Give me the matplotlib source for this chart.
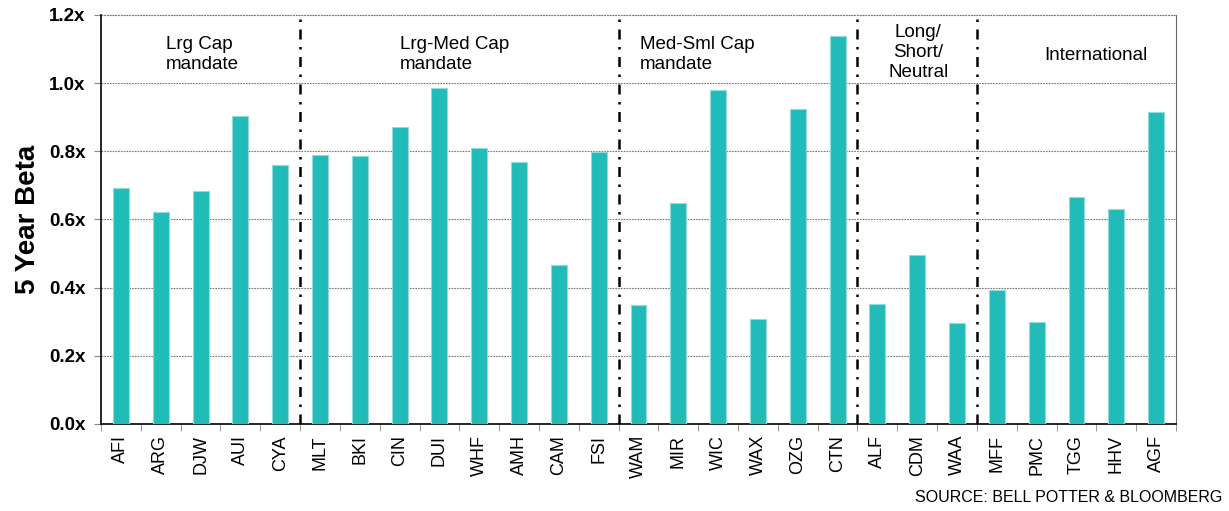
import matplotlib
matplotlib.use("Agg")
import matplotlib.pyplot as plt
import numpy as np

plt.rcParams['font.family'] = ['Liberation Sans', 'DejaVu Sans']

tickers = ["AFI", "ARG", "DJW", "AUI", "CYA",
           "MLT", "BKI", "CIN", "DUI", "WHF", "AMH", "CAM", "FSI",
           "WAM", "MIR", "WIC", "WAX", "OZG", "CTN",
           "ALF", "CDM", "WAA",
           "MFF", "PMC", "TGG", "HHV", "AGF"]
beta = [0.691, 0.621, 0.684, 0.903, 0.759,
        0.788, 0.786, 0.871, 0.987, 0.809, 0.769, 0.466, 0.799,
        0.350, 0.647, 0.980, 0.307, 0.923, 1.138,
        0.351, 0.496, 0.295,
        0.392, 0.300, 0.666, 0.632, 0.915]
group_names = ["Lrg Cap\nmandate", "Lrg-Med Cap\nmandate", "Med-Sml Cap\nmandate",
               "Long/\nShort/\nNeutral", "International"]
group_sizes = [5, 8, 6, 3, 5]
yticks = [0.0, 0.2, 0.4, 0.6, 0.8, 1.0, 1.2]
ytick_labels = ["0.0x", "0.2x", "0.4x", "0.6x", "0.8x", "1.0x", "1.2x"]

fig = plt.figure(figsize=(12.29, 5.11), dpi=100)
ax = fig.add_axes([101/1229, 1 - 424/511, (1176-101)/1229, (424-15)/511])

x = np.arange(len(tickers))
ax.bar(x, beta, width=0.4, color='#22BCB8', edgecolor='#8FDCD8', linewidth=0.8, zorder=3)

ax.set_xlim(-0.5, len(tickers) - 0.5)
ax.set_ylim(0, 1.2)
ax.set_yticks(yticks)
ax.set_yticklabels(ytick_labels, fontsize=13.5, fontweight='bold')
ax.set_xticks(x)
ax.set_xticklabels(tickers, rotation=90, fontsize=13)
ax.tick_params(axis='x', which='major', length=0, pad=8)
ax.set_xticks(np.arange(-0.5, len(tickers), 1.0), minor=True)
ax.tick_params(axis='x', which='minor', length=5, color='#888888', direction='out')
ax.tick_params(axis='y', length=5, color='#888888', direction='out', pad=6)

ax.yaxis.grid(True, linestyle=(0, (1.5, 1)), color='#777777', linewidth=0.8, zorder=1)
ax.set_axisbelow(True)
ax.spines['top'].set_visible(False)
ax.spines['right'].set_color('#666666')
ax.spines['left'].set_color('black')
ax.spines['left'].set_linewidth(1.2)
ax.spines['bottom'].set_color('black')
ax.spines['bottom'].set_linewidth(1.2)
ax.axhline(1.2, color='#777777', linestyle=(0, (1.5, 1)), linewidth=0.8, clip_on=False)

ax.set_ylabel("5 Year Beta", fontsize=20, fontweight='bold', labelpad=6)

# separators and group labels
bounds = np.cumsum([0] + group_sizes) - 0.5
for b in bounds[1:-1]:
    ax.axvline(b, color='black', linestyle=(0, (4, 3, 1, 3)), linewidth=1.8, zorder=4)

label_pos = [(1.13, 1.085, 'left'), (7.0, 1.085, 'left'), (13.04, 1.085, 'left'),
             (20.03, 1.09, 'center'), (24.5, 1.082, 'center')]
for name, (lx, ly, ha) in zip(group_names, label_pos):
    ax.text(lx, ly, name, ha=ha, va='center', fontsize=13.5, linespacing=1.25)

fig.text(1222/1229, 1 - 497/511, "SOURCE: BELL POTTER & BLOOMBERG",
         ha='right', va='center', fontsize=11.5)

fig.savefig("out.png", dpi=100)
